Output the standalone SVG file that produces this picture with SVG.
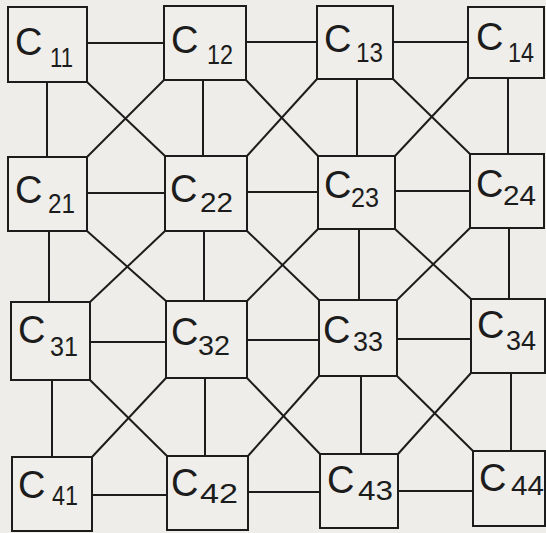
<svg xmlns="http://www.w3.org/2000/svg" width="546" height="533" viewBox="0 0 546 533">
<style>
.bg{fill:#eeede9}
.box{fill:#efeeea;stroke:#1c1c1c;stroke-width:2}
.ln{stroke:#1c1c1c;stroke-width:2;fill:none}
.c{font-family:"Liberation Sans",Arial,sans-serif;font-size:38px;fill:#1c1c1c}
.s{font-family:"Liberation Sans",Arial,sans-serif;font-size:27px;fill:#1c1c1c}
</style>
<rect class="bg" x="0" y="0" width="546" height="533"/>
<g id="connectors">
<line class="ln" x1="87" y1="43" x2="164" y2="43"/>
<line class="ln" x1="246" y1="42" x2="317" y2="42"/>
<line class="ln" x1="393" y1="42" x2="468" y2="42"/>
<line class="ln" x1="87" y1="193" x2="165" y2="193"/>
<line class="ln" x1="247" y1="192" x2="318" y2="192"/>
<line class="ln" x1="395" y1="191" x2="470" y2="191"/>
<line class="ln" x1="90" y1="342" x2="166" y2="342"/>
<line class="ln" x1="247" y1="340" x2="319" y2="340"/>
<line class="ln" x1="397" y1="339" x2="471" y2="339"/>
<line class="ln" x1="92" y1="495" x2="167" y2="495"/>
<line class="ln" x1="248" y1="492" x2="320" y2="492"/>
<line class="ln" x1="398" y1="491" x2="473" y2="491"/>
<line class="ln" x1="47" y1="82" x2="47" y2="157"/>
<line class="ln" x1="203" y1="80" x2="203" y2="156"/>
<line class="ln" x1="357" y1="79" x2="357" y2="156"/>
<line class="ln" x1="508" y1="78" x2="508" y2="154"/>
<line class="ln" x1="49" y1="231" x2="49" y2="302"/>
<line class="ln" x1="204" y1="231" x2="204" y2="301"/>
<line class="ln" x1="359" y1="229" x2="359" y2="300"/>
<line class="ln" x1="509" y1="228" x2="509" y2="299"/>
<line class="ln" x1="52" y1="380" x2="52" y2="457"/>
<line class="ln" x1="205" y1="378" x2="205" y2="456"/>
<line class="ln" x1="361" y1="376" x2="361" y2="454"/>
<line class="ln" x1="511" y1="373" x2="511" y2="451"/>
<line class="ln" x1="87" y1="82" x2="165" y2="156"/>
<line class="ln" x1="164" y1="80" x2="87" y2="157"/>
<line class="ln" x1="246" y1="80" x2="318" y2="156"/>
<line class="ln" x1="317" y1="79" x2="247" y2="156"/>
<line class="ln" x1="393" y1="79" x2="470" y2="154"/>
<line class="ln" x1="468" y1="78" x2="395" y2="156"/>
<line class="ln" x1="87" y1="231" x2="166" y2="301"/>
<line class="ln" x1="165" y1="231" x2="90" y2="302"/>
<line class="ln" x1="247" y1="231" x2="319" y2="300"/>
<line class="ln" x1="318" y1="229" x2="247" y2="301"/>
<line class="ln" x1="395" y1="229" x2="471" y2="299"/>
<line class="ln" x1="470" y1="228" x2="397" y2="300"/>
<line class="ln" x1="90" y1="380" x2="167" y2="456"/>
<line class="ln" x1="166" y1="378" x2="92" y2="457"/>
<line class="ln" x1="247" y1="378" x2="320" y2="454"/>
<line class="ln" x1="319" y1="376" x2="248" y2="456"/>
<line class="ln" x1="397" y1="376" x2="473" y2="451"/>
<line class="ln" x1="471" y1="373" x2="398" y2="454"/>
</g>
<g id="C11"><rect class="box" x="8" y="7" width="79" height="75"/><text class="c" x="15" y="55">C</text><text class="s" x="50" y="67" textLength="23" lengthAdjust="spacingAndGlyphs">11</text></g>
<g id="C12"><rect class="box" x="164" y="6" width="82" height="74"/><text class="c" x="171" y="53">C</text><text class="s" x="207" y="64" textLength="26" lengthAdjust="spacingAndGlyphs">12</text></g>
<g id="C13"><rect class="box" x="317" y="6" width="76" height="73"/><text class="c" x="324" y="52">C</text><text class="s" x="356" y="62" textLength="27" lengthAdjust="spacingAndGlyphs">13</text></g>
<g id="C14"><rect class="box" x="468" y="7" width="76" height="71"/><text class="c" x="476" y="50">C</text><text class="s" x="508" y="62" textLength="26" lengthAdjust="spacingAndGlyphs">14</text></g>
<g id="C21"><rect class="box" x="8" y="157" width="79" height="74"/><text class="c" x="15" y="203">C</text><text class="s" x="48" y="213" textLength="27" lengthAdjust="spacingAndGlyphs">21</text></g>
<g id="C22"><rect class="box" x="165" y="156" width="82" height="75"/><text class="c" x="170" y="202">C</text><text class="s" x="200" y="212" textLength="33" lengthAdjust="spacingAndGlyphs">22</text></g>
<g id="C23"><rect class="box" x="318" y="156" width="77" height="73"/><text class="c" x="324" y="198">C</text><text class="s" x="351" y="207" textLength="28" lengthAdjust="spacingAndGlyphs">23</text></g>
<g id="C24"><rect class="box" x="470" y="154" width="74" height="74"/><text class="c" x="476" y="197">C</text><text class="s" x="503" y="205" textLength="33" lengthAdjust="spacingAndGlyphs">24</text></g>
<g id="C31"><rect class="box" x="11" y="302" width="79" height="78"/><text class="c" x="18" y="343">C</text><text class="s" x="50" y="356" textLength="28" lengthAdjust="spacingAndGlyphs">31</text></g>
<g id="C32"><rect class="box" x="166" y="301" width="81" height="77"/><text class="c" x="171" y="345">C</text><text class="s" x="198" y="355" textLength="32" lengthAdjust="spacingAndGlyphs">32</text></g>
<g id="C33"><rect class="box" x="319" y="300" width="78" height="76"/><text class="c" x="323" y="343">C</text><text class="s" x="353" y="351" textLength="30" lengthAdjust="spacingAndGlyphs">33</text></g>
<g id="C34"><rect class="box" x="471" y="299" width="74" height="74"/><text class="c" x="477" y="338">C</text><text class="s" x="506" y="350" textLength="30" lengthAdjust="spacingAndGlyphs">34</text></g>
<g id="C41"><rect class="box" x="12" y="457" width="80" height="74"/><text class="c" x="18" y="498">C</text><text class="s" x="52" y="505" textLength="26" lengthAdjust="spacingAndGlyphs">41</text></g>
<g id="C42"><rect class="box" x="167" y="456" width="81" height="74"/><text class="c" x="171" y="496">C</text><text class="s" x="200" y="503" textLength="38" lengthAdjust="spacingAndGlyphs">42</text></g>
<g id="C43"><rect class="box" x="320" y="454" width="78" height="74"/><text class="c" x="327" y="493">C</text><text class="s" x="358" y="500" textLength="35" lengthAdjust="spacingAndGlyphs">43</text></g>
<g id="C44"><rect class="box" x="473" y="451" width="72" height="75"/><text class="c" x="479" y="491">C</text><text class="s" x="511" y="495" textLength="33" lengthAdjust="spacingAndGlyphs">44</text></g>
</svg>
